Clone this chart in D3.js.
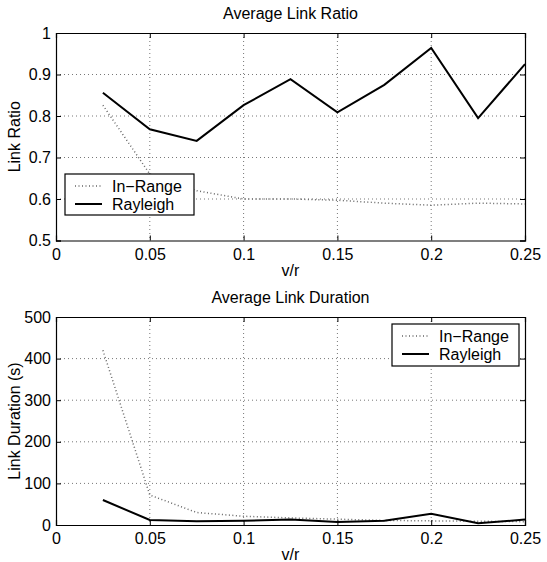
<!DOCTYPE html>
<html>
<head>
<meta charset="utf-8">
<script src="https://cdn.jsdelivr.net/npm/d3@7"></script>
<style>
  body { margin: 0; background: #fff; }
  svg text { font-family: "Liberation Sans", Arial, sans-serif; fill: #000; }
</style>
</head>
<body>
<svg id="fig" width="547" height="562"></svg>
<script>
// data
const vr = [0.025, 0.05, 0.075, 0.1, 0.125, 0.15, 0.175, 0.2, 0.225, 0.25];
const ratioInRange = [0.826, 0.66, 0.62, 0.600, 0.600, 0.597, 0.590, 0.585, 0.590, 0.588];
const ratioRayleigh = [0.856, 0.768, 0.740, 0.826, 0.889, 0.809, 0.875, 0.964, 0.795, 0.925];
const durInRange = [420, 72, 30, 21, 17, 14, 11, 10, 9, 8];
const durRayleigh = [60, 12, 9, 10, 13, 7, 10, 27, 4, 13];
const xTicks = [0, 0.05, 0.1, 0.15, 0.2, 0.25];
const ratioTicks = [0.5, 0.6, 0.7, 0.8, 0.9, 1];
const durTicks = [0, 100, 200, 300, 400, 500];
const seriesNames = ["In\u2212Range", "Rayleigh"];

const svg = d3.select("#fig");
const fs = 16;

function panel({ top, bottom, yDomain, yTicks, yFmt, title, yLabel, lines, legendBox }) {
    const left = 56, right = 525;
    const x = d3.scaleLinear().domain([0, 0.25]).range([left, right]);
    const y = d3.scaleLinear().domain(yDomain).range([bottom, top]);

    const g = svg.append("g");

    // grid
    g.selectAll(".vgrid").data(xTicks.slice(1, -1)).enter().append("line")
        .attr("x1", d => x(d)).attr("x2", d => x(d))
        .attr("y1", top).attr("y2", bottom)
        .attr("stroke", "#777").attr("stroke-width", 1)
        .attr("stroke-dasharray", "1,3");
    g.selectAll(".hgrid").data(yTicks.slice(1, -1)).enter().append("line")
        .attr("x1", left).attr("x2", right)
        .attr("y1", d => y(d)).attr("y2", d => y(d))
        .attr("stroke", "#777").attr("stroke-width", 1)
        .attr("stroke-dasharray", "1,3");

    // axes, ticks inward on all four sides
    const axB = d3.axisBottom(x).tickValues(xTicks).tickSize(-5).tickPadding(8)
        .tickFormat(d => d === 0 ? "0" : String(d));
    const axT = d3.axisTop(x).tickValues(xTicks).tickSize(-5).tickFormat("");
    const axL = d3.axisLeft(y).tickValues(yTicks).tickSize(-5).tickPadding(5).tickFormat(yFmt);
    const axR = d3.axisRight(y).tickValues(yTicks).tickSize(-5).tickFormat("");

    [[axB, `translate(0,${bottom})`], [axT, `translate(0,${top})`],
     [axL, `translate(${left},0)`], [axR, `translate(${right},0)`]].forEach(([ax, tr]) => {
        const a = g.append("g").attr("transform", tr).call(ax);
        a.select(".domain").attr("stroke", "#000").attr("stroke-width", 1.2);
        a.selectAll(".tick line").attr("stroke", "#000");
        a.selectAll("text").attr("font-size", fs).attr("font-family", null).attr("fill", "#000");
    });

    // lines
    const line = d3.line().x((d, i) => x(vr[i])).y(d => y(d));
    lines.forEach(s => {
        g.append("path").datum(s.values)
            .attr("d", line)
            .attr("fill", "none")
            .attr("stroke", s.color)
            .attr("stroke-width", s.width)
            .attr("stroke-dasharray", s.dash);
    });

    // title and labels
    g.append("text").attr("x", (left + right) / 2).attr("y", top - 14)
        .attr("text-anchor", "middle").attr("font-size", fs).text(title);
    g.append("text").attr("x", (left + right) / 2).attr("y", bottom + 35)
        .attr("text-anchor", "middle").attr("font-size", fs).text("v/r");
    g.append("text")
        .attr("transform", `translate(20,${(top + bottom) / 2}) rotate(-90)`)
        .attr("text-anchor", "middle").attr("font-size", fs).text(yLabel);

    // legend
    const [lx, ly, lw, lh] = legendBox;
    const lg = g.append("g").attr("transform", `translate(${lx},${ly})`);
    lg.append("rect").attr("width", lw).attr("height", lh)
        .attr("fill", "#fff").attr("stroke", "#000").attr("stroke-width", 1.2);
    lines.forEach((s, i) => {
        const cy = 12 + i * 18;
        lg.append("line").attr("x1", 10).attr("x2", 37).attr("y1", cy).attr("y2", cy)
            .attr("stroke", s.color).attr("stroke-width", s.width)
            .attr("stroke-dasharray", s.dash);
        lg.append("text").attr("x", 47).attr("y", cy + 6)
            .attr("font-size", fs).text(seriesNames[i]);
    });
}

const styleIn = { color: "#666", width: 1.5, dash: "1,2.5" };
const styleRay = { color: "#000", width: 2, dash: null };

panel({
    top: 33, bottom: 240.5, yDomain: [0.5, 1], yTicks: ratioTicks,
    yFmt: d => d === 1 ? "1" : d3.format(".1f")(d),
    title: "Average Link Ratio", yLabel: "Link Ratio",
    lines: [{ ...styleIn, values: ratioInRange }, { ...styleRay, values: ratioRayleigh }],
    legendBox: [65, 174, 129, 41]
});

panel({
    top: 317, bottom: 525, yDomain: [0, 500], yTicks: durTicks,
    yFmt: d3.format("d"),
    title: "Average Link Duration", yLabel: "Link Duration (s)",
    lines: [{ ...styleIn, values: durInRange }, { ...styleRay, values: durRayleigh }],
    legendBox: [392, 324, 127, 42]
});
</script>
</body>
</html>
